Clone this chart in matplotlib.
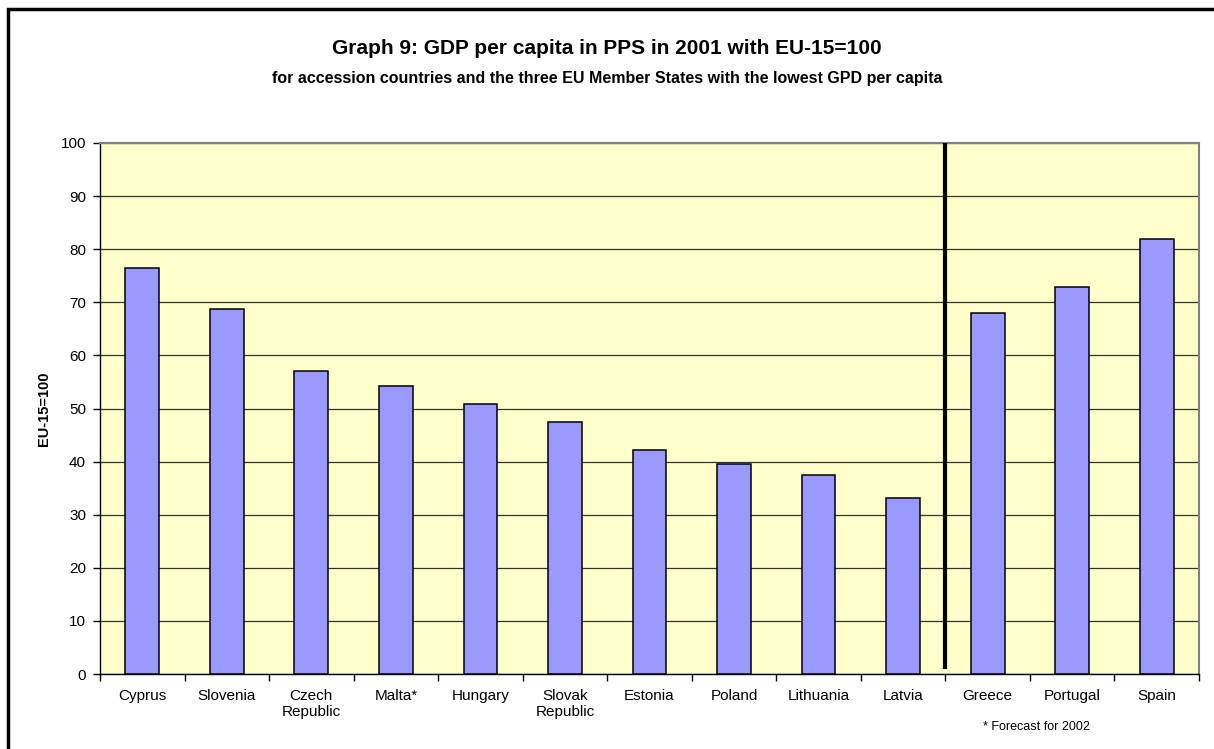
# GDP per capita in PPS, accession countries vs. lowest EU member states

import matplotlib.pyplot as plt
from matplotlib.patches import Rectangle
import numpy as np

plt.rcParams['font.family'] = ['Liberation Sans', 'DejaVu Sans']

countries = ['Cyprus', 'Slovenia', 'Czech\nRepublic', 'Malta*', 'Hungary', 'Slovak\nRepublic',
             'Estonia', 'Poland', 'Lithuania', 'Latvia', 'Greece', 'Portugal', 'Spain']
gdp_pps = [76.4, 68.7, 57.1, 54.3, 50.8, 47.5, 42.1, 39.6, 37.5, 33.2, 67.9, 72.9, 82.0]
y_ticks = list(range(0, 101, 10))
n_accession = 10


def main():
    fig = plt.figure(figsize=(12.14, 7.49), dpi=100)
    W, H = 1214, 749

    ax = fig.add_axes([100 / W, 1 - 674 / H, 1099 / W, 531 / H])
    ax.set_facecolor('#FFFFCC')

    x = np.arange(len(countries))
    ax.bar(x, gdp_pps, width=0.4, color='#9999FF', edgecolor='black', linewidth=1.1, zorder=3)

    # separator between accession countries and EU member states
    ax.plot([n_accession - 0.5, n_accession - 0.5], [1, 100], color='black', lw=3, zorder=4,
            solid_capstyle='butt')

    ax.set_xlim(-0.5, len(countries) - 0.5)
    ax.set_ylim(0, 100)
    ax.set_yticks(y_ticks)
    ax.set_yticklabels([str(t) for t in y_ticks], fontsize=11)
    ax.yaxis.grid(True, color='#333333', lw=0.9, zorder=1)
    ax.set_axisbelow(True)

    # ticks on category boundaries, labels centred under bars
    ax.set_xticks(np.arange(-0.5, len(countries), 1.0))
    ax.set_xticklabels([])
    ax.set_xticks(x, minor=True)
    ax.set_xticklabels(countries, minor=True, fontsize=11, va='top', linespacing=1.15)
    ax.tick_params(axis='x', which='minor', length=0, pad=11)
    ax.tick_params(axis='x', which='major', length=5, width=1, direction='out')
    ax.tick_params(axis='y', length=5, width=1, direction='out', pad=5)

    for side in ['top', 'right']:
        ax.spines[side].set_color('#808080')
        ax.spines[side].set_linewidth(1.5)
    for side in ['left', 'bottom']:
        ax.spines[side].set_color('black')
        ax.spines[side].set_linewidth(1.0)

    ax.set_ylabel('EU-15=100', fontsize=10.5, fontweight='bold')
    ax.yaxis.set_label_coords(-49 / 1099, 0.5)

    fig.text(0.5, 1 - 49 / H, 'Graph 9: GDP per capita in PPS in 2001 with EU-15=100',
             ha='center', va='center', fontsize=15, fontweight='bold')
    fig.text(0.5, 1 - 79 / H,
             'for accession countries and the three EU Member States with the lowest GPD per capita',
             ha='center', va='center', fontsize=11.5, fontweight='bold')
    fig.text(1036 / W, 1 - 727 / H, '* Forecast for 2002', ha='center', va='center', fontsize=9)

    # chart frame
    fig.add_artist(Rectangle((8 / W, -0.05), 1.1, (1 - 9 / H) + 0.05, transform=fig.transFigure,
                             fill=False, edgecolor='black', lw=2.5))

    fig.savefig('out.png', dpi=100, facecolor='white')


if __name__ == '__main__':
    main()
